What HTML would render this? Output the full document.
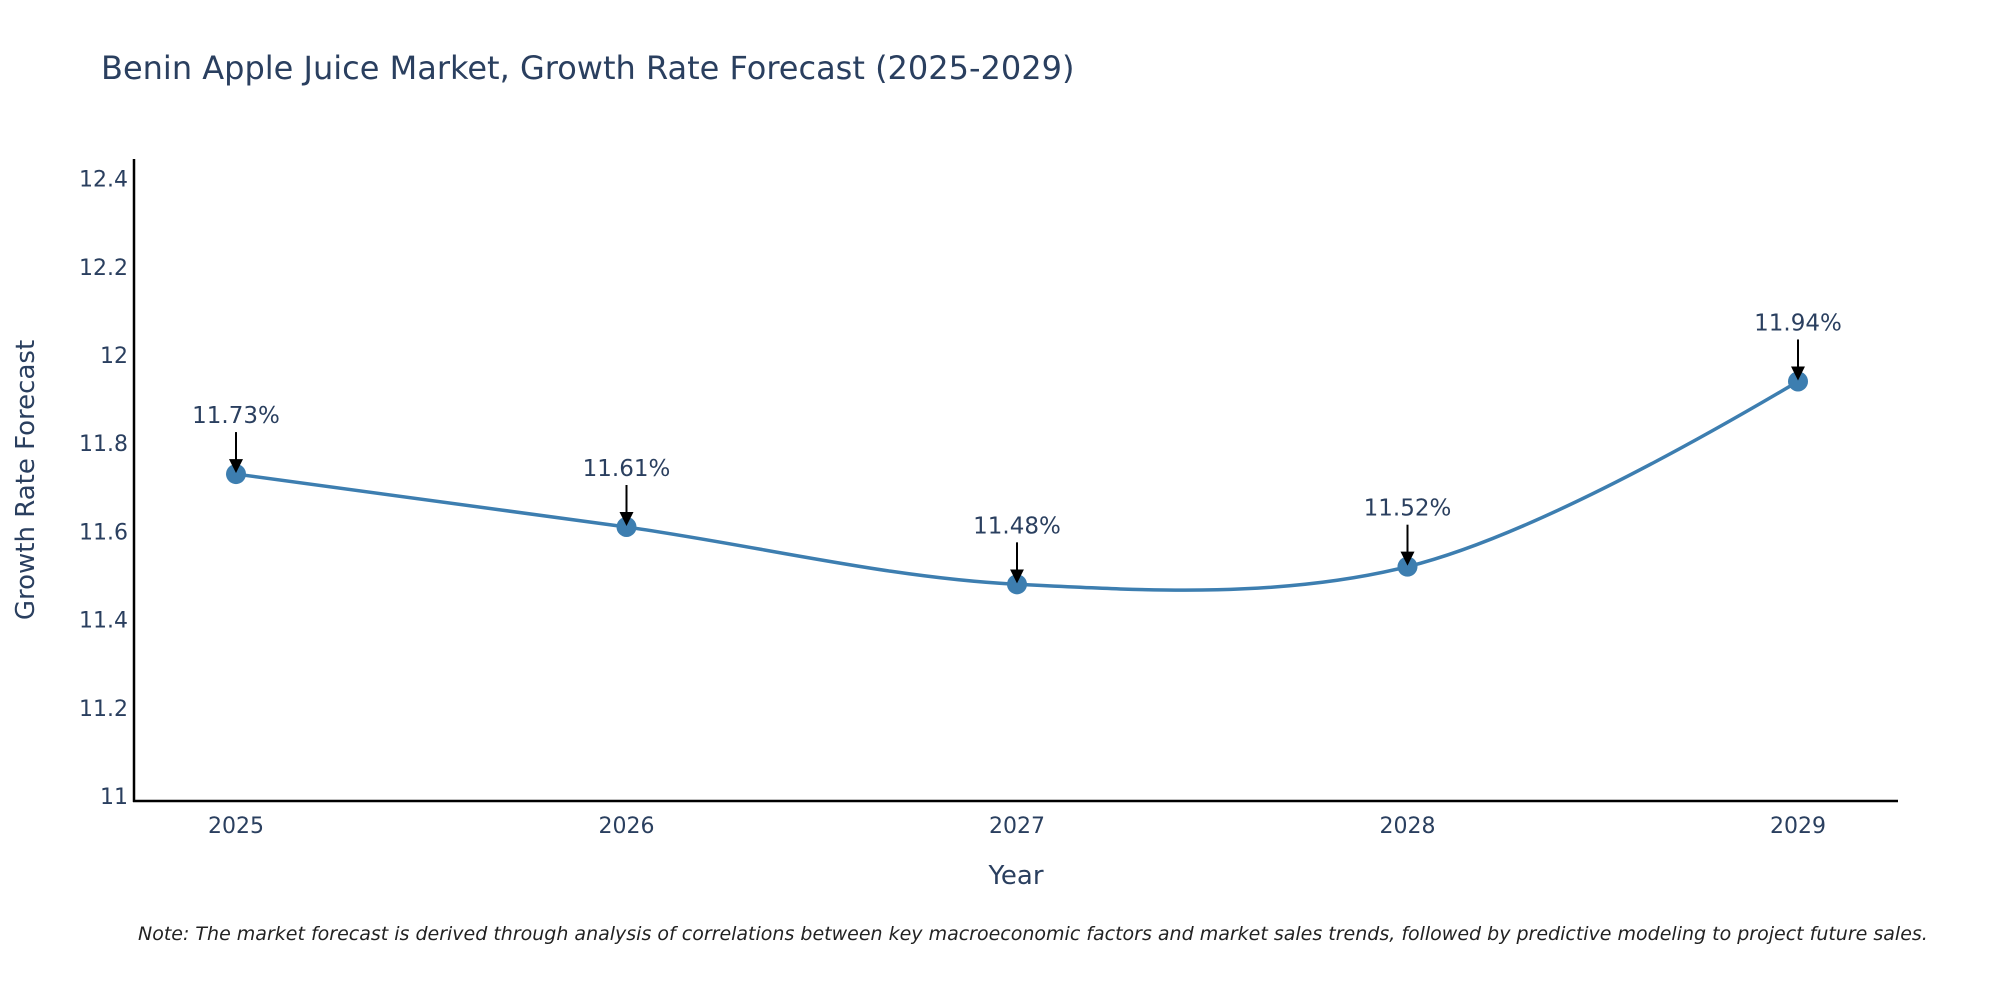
<!DOCTYPE html>
<html><head><meta charset="utf-8"><style>
body{margin:0;background:#fff;}
svg{display:block;font-family:"DejaVu Sans","Liberation Sans",sans-serif;}
</style></head><body>
<svg id="chart" width="2000" height="1000" viewBox="0 0 2000 1000">
<text x="101" y="79" font-size="32" fill="#2a3f5f">Benin Apple Juice Market, Growth Rate Forecast (2025-2029)</text>
<g id="yticks"></g><g id="xticks"></g>
<line x1="134" y1="159" x2="134" y2="802" stroke="#000" stroke-width="2.5"/>
<line x1="133" y1="801" x2="1898" y2="801" stroke="#000" stroke-width="2.5"/>
<text transform="translate(34,480) rotate(-90)" text-anchor="middle" font-size="26" fill="#2a3f5f">Growth Rate Forecast</text>
<text x="1016" y="884" text-anchor="middle" font-size="26" fill="#2a3f5f">Year</text>
<g id="series"></g><g id="annots"></g>
<text x="138" y="940" font-size="19" font-style="italic" fill="#222">Note: The market forecast is derived through analysis of correlations between key macroeconomic factors and market sales trends, followed by predictive modeling to project future sales.</text>
<defs><marker id="ah" markerWidth="14" markerHeight="14" refX="10" refY="7" orient="auto" markerUnits="userSpaceOnUse"><path d="M0,0 L14,7 L0,14 Z" fill="#000"/></marker></defs>
</svg>
<script>
const years=[2025,2026,2027,2028,2029];
const values=[11.73,11.61,11.48,11.52,11.94];
const labels=["11.73%","11.61%","11.48%","11.52%","11.94%"];
const yTicks=[11,11.2,11.4,11.6,11.8,12,12.2,12.4];
const yTickLabels=["11","11.2","11.4","11.6","11.8","12","12.2","12.4"];
const NS="http://www.w3.org/2000/svg";
function X(v){return 236+(v-2025)*390.5;}
function Y(v){return 796-(v-11)*441;}
function mk(t,a,p){const e=document.createElementNS(NS,t);for(const k in a)e.setAttribute(k,a[k]);p.appendChild(e);return e;}
const yt=document.getElementById('yticks');
yTicks.forEach((v,i)=>{const t=mk('text',{x:128,y:Y(v)+8,'text-anchor':'end','font-size':22,fill:'#2a3f5f'},yt);


t.textContent=yTickLabels[i];});
const xt=document.getElementById('xticks');
years.forEach(v=>{const t=mk('text',{x:X(v),y:833,'text-anchor':'middle','font-size':22,fill:'#2a3f5f'},xt);


t.textContent=v;});
const pts=years.map((y,i)=>[X(y),Y(values[i])]);
function tang(p0,p1,p2){const d1x=p0[0]-p1[0],d1y=p0[1]-p1[1],d2x=p2[0]-p1[0],d2y=p2[1]-p1[1];
const a=Math.pow(d1x*d1x+d1y*d1y,0.25),b=Math.pow(d2x*d2x+d2y*d2y,0.25);
const nx=(b*b*d1x-a*a*d2x),ny=(b*b*d1y-a*a*d2y),den1=3*b*(a+b),den2=3*a*(a+b);
return [[p1[0]+nx/den1,p1[1]+ny/den1],[p1[0]-nx/den2,p1[1]-ny/den2]];}
const tg=[];for(let i=1;i<pts.length-1;i++)tg.push(tang(pts[i-1],pts[i],pts[i+1]));
let d='M'+pts[0]+'Q'+tg[0][0]+' '+pts[1];
for(let i=2;i<pts.length-1;i++)d+='C'+tg[i-2][1]+' '+tg[i-1][0]+' '+pts[i];
d+='Q'+tg[pts.length-3][1]+' '+pts[pts.length-1];
const s=document.getElementById('series');
const line=mk('path',{d:d,fill:'none',stroke:'#3d7eb0','stroke-width':3.5},s);


const an=document.getElementById('annots');
pts.forEach((p,i)=>{const c=mk('circle',{cx:p[0],cy:p[1],r:10,fill:'#3d7eb0'},s);


const a=mk('line',{x1:p[0],y1:p[1]-42,x2:p[0],y2:p[1]-5,stroke:'#000','stroke-width':2,'marker-end':'url(#ah)'},an);


const t=mk('text',{x:p[0],y:p[1]-51,'text-anchor':'middle','font-size':23,fill:'#2a3f5f'},an);


t.textContent=labels[i];});
</script>
</body></html>
